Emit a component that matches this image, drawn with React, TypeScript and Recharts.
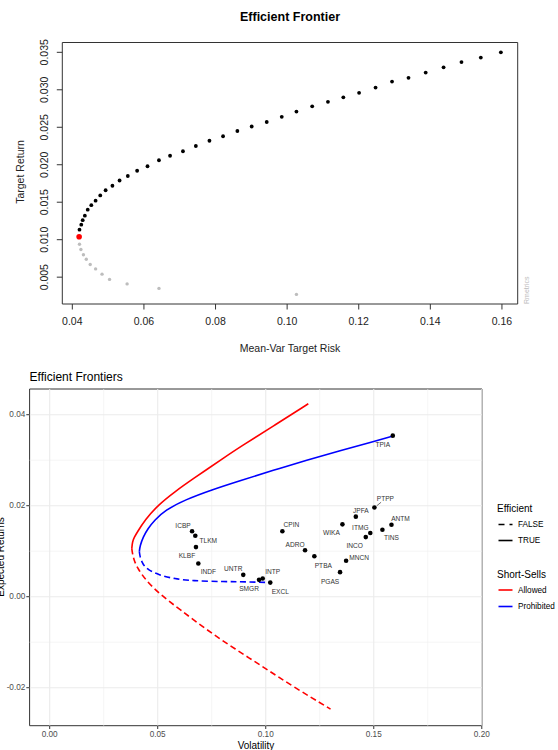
import React from "react";
import {
  ComposedChart,
  Line,
  ReferenceArea,
  ReferenceLine,
  Scatter,
  ScatterChart,
  XAxis,
  YAxis,
} from "recharts";

const FONT = "'Liberation Sans', Arial, sans-serif";

// ---- top chart: fPortfolio frontier points (risk, return)
const EFFICIENT_PTS: [number, number][] = [
  [0.042, 0.01134], [0.0425, 0.012], [0.0429, 0.0126], [0.0435, 0.0132],
  [0.0443, 0.014], [0.0453, 0.0146], [0.0465, 0.0152], [0.0478, 0.0159],
  [0.0493, 0.0166], [0.0512, 0.0172], [0.0532, 0.0179], [0.0555, 0.0185],
  [0.0581, 0.0192], [0.061, 0.0198], [0.0642, 0.0206], [0.0673, 0.0212],
  [0.0709, 0.0218], [0.0745, 0.0225], [0.0783, 0.0232], [0.0821, 0.0238],
  [0.0861, 0.0245], [0.0901, 0.0251], [0.0943, 0.0257], [0.0985, 0.0264],
  [0.1026, 0.0271], [0.107, 0.0278], [0.1114, 0.0284], [0.1157, 0.029],
  [0.1201, 0.0296], [0.1247, 0.0303], [0.1293, 0.0311], [0.1339, 0.0316],
  [0.1387, 0.0323], [0.1437, 0.033], [0.1487, 0.0337], [0.1541, 0.0343],
  [0.1597, 0.035],
];
const INEFFICIENT_PTS: [number, number][] = [
  [0.042, 0.0094], [0.0424, 0.0087], [0.0431, 0.008], [0.0439, 0.0074],
  [0.045, 0.0067], [0.0465, 0.0061], [0.0483, 0.0054], [0.0504, 0.0047],
  [0.0553, 0.0041], [0.0642, 0.0035], [0.1026, 0.0027],
];
const MIN_VAR_PT: [number, number][] = [[0.0419, 0.0104]];

const TOP_X_TICKS = [0.04, 0.06, 0.08, 0.1, 0.12, 0.14, 0.16];
const TOP_Y_TICKS = [0.005, 0.01, 0.015, 0.02, 0.025, 0.03, 0.035];
const TOP_X_DOMAIN: [number, number] = [0.0372, 0.1644];
const TOP_Y_DOMAIN: [number, number] = [0.00142, 0.03631];

// ---- bottom chart: frontier curves (volatility, expected return)
const ALLOWED_EFF: [number, number][] = [
  [0.038, 0.0106], [0.0383, 0.0121], [0.0392, 0.0131], [0.0403, 0.014],
  [0.0441, 0.0169], [0.0503, 0.0202], [0.058, 0.0231], [0.0657, 0.0257],
  [0.0812, 0.0307], [0.0881, 0.0329], [0.1035, 0.0375], [0.1197, 0.0424],
];
const ALLOWED_INEFF: [number, number][] = [
  [0.038, 0.0106], [0.0384, 0.0092], [0.0393, 0.0077], [0.0408, 0.0062],
  [0.0443, 0.0037], [0.0513, 0.0004], [0.0603, -0.0028], [0.0727, -0.0073],
  [0.0858, -0.0115], [0.0997, -0.0157], [0.1128, -0.0198], [0.13, -0.0247],
];
const PROHIBITED_EFF: [number, number][] = [
  [0.0415, 0.0099], [0.0418, 0.0112], [0.0433, 0.0132], [0.0455, 0.015],
  [0.0485, 0.0168], [0.0534, 0.019], [0.0626, 0.0213], [0.075, 0.0235],
  [0.0881, 0.0255], [0.1035, 0.0278], [0.119, 0.03], [0.1344, 0.0321],
  [0.1498, 0.0341], [0.1588, 0.0353],
];
const PROHIBITED_INEFF: [number, number][] = [
  [0.0415, 0.0099], [0.0418, 0.0088], [0.0426, 0.0077], [0.0438, 0.0067],
  [0.0457, 0.0059], [0.0503, 0.0048], [0.058, 0.0039], [0.0657, 0.0035],
  [0.0812, 0.0033], [0.0904, 0.0033], [0.102, 0.0031],
];

const TICKERS = [
  "TPIA", "PTPP", "JPFA", "ANTM", "WIKA", "ITMG", "TINS", "INCO", "CPIN", "ADRO", "PTBA",
  "MNCN", "PGAS", "ICBP", "TLKM", "KLBF", "INDF", "UNTR", "SMGR", "INTP", "EXCL",
];
const TICKER_RISK = [
  0.1588, 0.1503, 0.1417, 0.1582, 0.1355, 0.1484, 0.154, 0.1463, 0.1077, 0.1182, 0.1225,
  0.1372, 0.1344, 0.0659, 0.0674, 0.0677, 0.0688, 0.0896, 0.0969, 0.0986, 0.1021,
];
const TICKER_RETURN = [
  0.0354, 0.0196, 0.0176, 0.0158, 0.0159, 0.014, 0.0147, 0.0131, 0.0144, 0.0102, 0.0089,
  0.0079, 0.0054, 0.0144, 0.0134, 0.0109, 0.0073, 0.0048, 0.0037, 0.004, 0.0031,
];

const BOT_X_TICKS = [0, 0.05, 0.1, 0.15, 0.2];
const BOT_X_MINOR = [0.025, 0.075, 0.125, 0.175];
const BOT_Y_TICKS = [-0.02, 0, 0.02, 0.04];
const BOT_Y_MINOR = [-0.01, 0.01, 0.03];
const BOT_X_DOMAIN: [number, number] = [-0.0093, 0.2001];
const BOT_Y_DOMAIN: [number, number] = [-0.02835, 0.04565];

const EFFICIENT_LEVELS = ["FALSE", "TRUE"];
const SHORT_LEVELS = ["Allowed", "Prohibited"];

// repel-style label offsets (px) for each ticker
const LABEL_NUDGE: Record<string, [number, number]> = {
  TPIA: [-10, 9], PTPP: [11, -9], JPFA: [5, -6], ANTM: [9, -6], WIKA: [-11, 8],
  ITMG: [-10, -6], TINS: [9, 8], INCO: [-11, 8], CPIN: [9, -7], ADRO: [-10, -6],
  PTBA: [9, 9], MNCN: [13, -3], PGAS: [-10, 9], ICBP: [-9, -6], TLKM: [13, 5],
  KLBF: [-9, 8], INDF: [10, 8], UNTR: [-10, -6], SMGR: [-10, 9], INTP: [10, -7],
  EXCL: [10, 9],
};

const RED = "#ff0000";
const BLUE = "#0000ff";
const DASH = "6 3.5";

const toXY = (pts: [number, number][]) => pts.map(([x, y]) => ({ x, y }));
const stocks = TICKERS.map((name, i) => ({ name, x: TICKER_RISK[i], y: TICKER_RETURN[i] }));

const dot = (r: number, fill: string) => (p: any) => (
  <circle cx={p.cx} cy={p.cy} r={r} fill={fill} />
);

const TopXTick = ({ x, y, payload }: any) => (
  <text x={x} y={y} dy={9} textAnchor="middle" dominantBaseline="central" fontSize={10.5} fill="#222">
    {payload.value.toFixed(2)}
  </text>
);

const TopYTick = ({ x, y, payload }: any) => {
  const cx = x - 11;
  return (
    <text
      x={cx}
      y={y}
      textAnchor="middle"
      dominantBaseline="central"
      fontSize={10.5}
      fill="#222"
      transform={`rotate(-90, ${cx}, ${y})`}
    >
      {payload.value.toFixed(3)}
    </text>
  );
};

const BotXTick = ({ x, y, payload }: any) => (
  <text x={x} y={y} dy={3} textAnchor="middle" dominantBaseline="central" fontSize={8.2} fill="#4d4d4d">
    {payload.value.toFixed(2)}
  </text>
);

const BotYTick = ({ x, y, payload }: any) => (
  <text x={x + 1} y={y} textAnchor="end" dominantBaseline="central" fontSize={8.2} fill="#4d4d4d">
    {payload.value.toFixed(2)}
  </text>
);

const StockMark = (p: any) => {
  const [dx, dy] = LABEL_NUDGE[p.payload.name] || [0, 0];
  return (
    <g>
      <circle cx={p.cx} cy={p.cy} r={2.3} fill="#000" />
      {p.payload.name === "PTPP" && (
        <line x1={p.cx + 2.3} y1={p.cy - 1.7} x2={p.cx + 6.7} y2={p.cy - 5.3} stroke="#333" strokeWidth={0.7} />
      )}
      <text
        x={p.cx + dx}
        y={p.cy + dy}
        textAnchor="middle"
        dominantBaseline="central"
        fontSize={6.6}
        fill="#333"
      >
        {p.payload.name}
      </text>
    </g>
  );
};

function TopChart() {
  return (
    <ScatterChart
      width={558}
      height={360}
      margin={{ top: 42.5, right: 40.3, left: 0, bottom: 26 }}
    >
      <XAxis
        type="number"
        dataKey="x"
        domain={TOP_X_DOMAIN}
        ticks={TOP_X_TICKS}
        height={30}
        axisLine={false}
        tickLine={{ stroke: "#333" }}
        tickSize={5.5}
        tick={<TopXTick />}
        interval={0}
      />
      <YAxis
        type="number"
        dataKey="y"
        domain={TOP_Y_DOMAIN}
        ticks={TOP_Y_TICKS}
        width={62.3}
        axisLine={false}
        tickLine={{ stroke: "#333" }}
        tickSize={5.5}
        tick={<TopYTick />}
        interval={0}
      />
      <ReferenceArea
        x1={TOP_X_DOMAIN[0]}
        x2={TOP_X_DOMAIN[1]}
        y1={TOP_Y_DOMAIN[0]}
        y2={TOP_Y_DOMAIN[1]}
        fill="none"
        stroke="#333"
        strokeWidth={1}
      />
      <Scatter data={toXY(INEFFICIENT_PTS)} shape={dot(1.7, "#bdbdbd")} isAnimationActive={false} />
      <Scatter data={toXY(EFFICIENT_PTS)} shape={dot(1.9, "#000")} isAnimationActive={false} />
      <Scatter data={toXY(MIN_VAR_PT)} shape={dot(2.8, RED)} isAnimationActive={false} />
    </ScatterChart>
  );
}

function BottomChart() {
  return (
    <ComposedChart
      width={558}
      height={390}
      margin={{ top: 29, right: 76, left: 0, bottom: 4.3 }}
    >
      <XAxis
        type="number"
        dataKey="x"
        domain={BOT_X_DOMAIN}
        ticks={BOT_X_TICKS}
        height={20}
        axisLine={false}
        tickLine={{ stroke: "#333" }}
        tickSize={3.3}
        tick={<BotXTick />}
        interval={0}
      />
      <YAxis
        type="number"
        dataKey="y"
        domain={BOT_Y_DOMAIN}
        ticks={BOT_Y_TICKS}
        width={29.6}
        axisLine={false}
        tickLine={{ stroke: "#333" }}
        tickSize={3.3}
        tick={<BotYTick />}
        interval={0}
      />
      {BOT_X_MINOR.map((v) => (
        <ReferenceLine key={`xm${v}`} x={v} stroke="#f0f0f0" strokeWidth={0.7} />
      ))}
      {BOT_Y_MINOR.map((v) => (
        <ReferenceLine key={`ym${v}`} y={v} stroke="#f0f0f0" strokeWidth={0.7} />
      ))}
      {BOT_X_TICKS.map((v) => (
        <ReferenceLine key={`x${v}`} x={v} stroke="#ebebeb" strokeWidth={1.1} />
      ))}
      {BOT_Y_TICKS.map((v) => (
        <ReferenceLine key={`y${v}`} y={v} stroke="#ebebeb" strokeWidth={1.1} />
      ))}
      <Line data={toXY(ALLOWED_INEFF)} dataKey="y" type="basis" stroke={RED} strokeWidth={1.6} strokeDasharray={DASH} dot={false} isAnimationActive={false} />
      <Line data={toXY(PROHIBITED_INEFF)} dataKey="y" type="basis" stroke={BLUE} strokeWidth={1.6} strokeDasharray={DASH} dot={false} isAnimationActive={false} />
      <Line data={toXY(ALLOWED_EFF)} dataKey="y" type="basis" stroke={RED} strokeWidth={1.6} dot={false} isAnimationActive={false} />
      <Line data={toXY(PROHIBITED_EFF)} dataKey="y" type="basis" stroke={BLUE} strokeWidth={1.6} dot={false} isAnimationActive={false} />
      <Scatter data={stocks} shape={StockMark} isAnimationActive={false} />
      <ReferenceArea
        x1={BOT_X_DOMAIN[0]}
        x2={BOT_X_DOMAIN[1]}
        y1={BOT_Y_DOMAIN[0]}
        y2={BOT_Y_DOMAIN[1]}
        fill="none"
        stroke="#333"
        strokeWidth={1}
      />
    </ComposedChart>
  );
}

function Overlay() {
  const keyX1 = 498.5;
  const keyX2 = 512.5;
  const labelX = 518;
  return (
    <svg
      width={558}
      height={750}
      style={{ position: "absolute", left: 0, top: 0, pointerEvents: "none", fontFamily: FONT }}
    >
      {/* top chart texts */}
      <text x={290} y={17} textAnchor="middle" dominantBaseline="central" fontSize={12.5} fontWeight="bold" fill="#000">
        Efficient Frontier
      </text>
      <text x={290} y={348} textAnchor="middle" dominantBaseline="central" fontSize={10.5} fill="#222">
        Mean-Var Target Risk
      </text>
      <text x={19.6} y={172} textAnchor="middle" dominantBaseline="central" fontSize={10.5} fill="#222" transform="rotate(-90, 19.6, 172)">
        Target Return
      </text>
      <text x={526} y={304} textAnchor="start" dominantBaseline="central" fontSize={7} fill="#bbb" transform="rotate(-90, 526, 304)">
        Rmetrics
      </text>

      {/* bottom chart texts */}
      <text x={29.6} y={377} dominantBaseline="central" fontSize={12} fill="#000">
        Efficient Frontiers
      </text>
      <text x={256} y={745} textAnchor="middle" dominantBaseline="central" fontSize={10} fill="#000">
        Volatility
      </text>
      <text x={0} y={557} textAnchor="middle" dominantBaseline="central" fontSize={10} fill="#000" transform="rotate(-90, 0, 557)">
        Expected Returns
      </text>

      {/* legend */}
      <text x={497} y={508} dominantBaseline="central" fontSize={10} fill="#000">Efficient</text>
      {EFFICIENT_LEVELS.map((lv, i) => {
        const y = 524.5 + i * 16;
        return (
          <g key={lv}>
            <line x1={keyX1} x2={keyX2} y1={y} y2={y} stroke="#000" strokeWidth={1.6} strokeDasharray={lv === "FALSE" ? "6 5" : undefined} />
            <text x={labelX} y={y} dominantBaseline="central" fontSize={8.2} fill="#000">{lv}</text>
          </g>
        );
      })}
      <text x={497} y={574} dominantBaseline="central" fontSize={10} fill="#000">Short-Sells</text>
      {SHORT_LEVELS.map((lv, i) => {
        const y = 590 + i * 16.5;
        return (
          <g key={lv}>
            <line x1={keyX1} x2={keyX2} y1={y} y2={y} stroke={i === 0 ? RED : BLUE} strokeWidth={1.6} />
            <text x={labelX} y={y} dominantBaseline="central" fontSize={8.2} fill="#000">{lv}</text>
          </g>
        );
      })}
    </svg>
  );
}

export default function App() {
  return (
    <div
      style={{
        position: "absolute",
        left: 0,
        top: 0,
        width: 558,
        height: 750,
        overflow: "hidden",
        background: "#fff",
        fontFamily: FONT,
      }}
    >
      <div style={{ position: "absolute", left: 0, top: 0 }}>
        <TopChart />
      </div>
      <div style={{ position: "absolute", left: 0, top: 360 }}>
        <BottomChart />
      </div>
      <Overlay />
    </div>
  );
}
